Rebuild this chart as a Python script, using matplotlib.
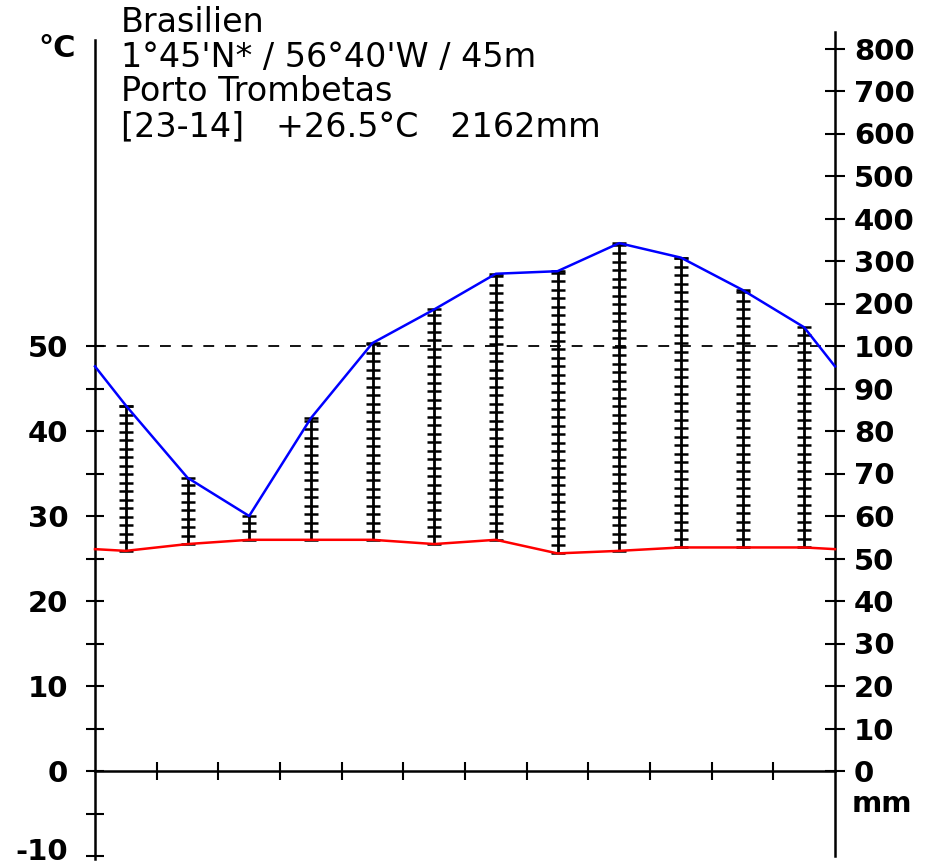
import numpy as np
import matplotlib
matplotlib.use("Agg")
import matplotlib.pyplot as plt
from matplotlib.transforms import ScaledTranslation

# Station: Porto Trombetas, Brasilien (months run July .. June)
months = ["Jul", "Aug", "Sep", "Oct", "Nov", "Dec",
          "Jan", "Feb", "Mar", "Apr", "May", "Jun"]
temperature_c = [25.9, 26.7, 27.2, 27.2, 27.2, 26.7,
                 27.2, 25.6, 25.9, 26.3, 26.3, 26.3]
precipitation_mm = [86, 69, 60, 83, 107, 186,
                    270, 276, 342, 308, 232, 144]

title_lines = ["Brasilien",
               "1°45'N* / 56°40'W / 45m",
               "Porto Trombetas",
               "[23-14]   +26.5°C   2162mm"]

left_ticks = [-10, 0, 10, 20, 30, 40, 50]
right_tick_labels = [0, 10, 20, 30, 40, 50, 60, 70, 80, 90, 100,
                     200, 300, 400, 500, 600, 700, 800]


def mm_to_scale(p):
    """Walter-Lieth scale: 10 degC = 20 mm up to 100 mm, then 10 degC = 200 mm."""
    p = np.asarray(p, dtype=float)
    return np.where(p <= 100, p / 2.0, 50.0 + (p - 100.0) / 20.0)


W, H = 933, 868
fig = plt.figure(figsize=(W / 100, H / 100), dpi=100)
fig.patch.set_facecolor("white")

ax_left_px, ax_right_px = 95, 835
ax_bottom_px, ax_top_px = 856, 32
px_per_unit = 8.5
y_top = (771 - ax_top_px) / px_per_unit
ax = fig.add_axes([ax_left_px / W, (H - ax_bottom_px) / H,
                   (ax_right_px - ax_left_px) / W,
                   (ax_bottom_px - ax_top_px) / H])
ax.set_xlim(0, 12)
ax.set_ylim(-10, y_top)
ax.set_facecolor("white")

n = len(months)
xc = np.arange(n) + 0.5
t = np.asarray(temperature_c)
p = mm_to_scale(precipitation_mm)

# curves wrap around at both diagram edges
x_line = np.concatenate([[0], xc, [12]])
t_line = np.concatenate([[(t[0] + t[-1]) / 2], t, [(t[0] + t[-1]) / 2]])
p_line = np.concatenate([[(p[0] + p[-1]) / 2], p, [(p[0] + p[-1]) / 2]])

# humid-period ladders
for xi, ti, pi in zip(xc, t, p):
    lo, hi = min(ti, pi), max(ti, pi)
    ax.plot([xi, xi], [lo, hi], color="black", lw=2.0, zorder=2,
            solid_capstyle="butt")
    rungs = np.append(np.arange(lo, hi, 1.0), hi)
    ax.plot(np.full_like(rungs, xi), rungs, linestyle="none", marker="_",
            markersize=9.5, markeredgewidth=1.8, color="black", zorder=2)

ax.plot(x_line, p_line, color="#0000ff", lw=1.8, zorder=3, clip_on=False)
ax.plot(x_line, t_line, color="#ff0000", lw=1.8, zorder=3, clip_on=False)

# 50 degC / 100 mm reference
ax.plot([0, 12], [50, 50], color="black", lw=1.3, dashes=(6, 6), zorder=1)

# spines
ax.spines["top"].set_visible(False)
ax.spines["bottom"].set_position(("data", 0))
ax.spines["bottom"].set_bounds(0, 12)
ax.spines["left"].set_bounds(-10.3, (771 - 40) / px_per_unit)
ax.spines["right"].set_bounds(-10.0, y_top)
for s in ["left", "right", "bottom"]:
    ax.spines[s].set_linewidth(1.8)

label_font = dict(family="DejaVu Sans", weight="bold", size=21)

# left temperature axis
ax.set_yticks(left_ticks)
ax.set_yticks([-5, 5, 15, 25, 35, 45], minor=True)
ax.set_yticklabels([str(v) for v in left_ticks], fontdict=label_font)
ax.tick_params(axis="y", which="both", direction="inout", length=12.5,
               width=1.5, pad=13.0, left=True, right=False)
# keep the lowest label inside the canvas
lowest = ax.get_yticklabels()[0]
lowest.set_transform(lowest.get_transform()
                     + ScaledTranslation(0, 7 / 100, fig.dpi_scale_trans))

# bottom month ticks
ax.set_xticks(np.arange(1, 12))
ax.set_xticklabels([])
ax.tick_params(axis="x", which="both", direction="inout", length=13,
               width=1.5)

# right precipitation axis
ax2 = ax.twinx()
ax2.set_ylim(ax.get_ylim())
for s in ["top", "left", "bottom", "right"]:
    ax2.spines[s].set_visible(False)
ax2.set_yticks(mm_to_scale(right_tick_labels))
ax2.set_yticklabels([str(v) for v in right_tick_labels], fontdict=label_font)
ax2.tick_params(axis="y", direction="inout", length=14, width=1.5, pad=6.5)

# header text
title_font = dict(family="DejaVu Sans", size=24)
baselines = [32, 67, 101, 136]
for line, yb in zip(title_lines, baselines):
    fig.text(121 / W, 1 - yb / H, line, ha="left", va="baseline", **title_font)

fig.text(38 / W, 1 - 57 / H, "°C", ha="left", va="baseline",
         family="DejaVu Sans", weight="bold", size=22)
fig.text(852 / W, 1 - 812 / H, "mm", ha="left", va="baseline", **label_font)

fig.savefig("out.png", dpi=100, facecolor="white")
